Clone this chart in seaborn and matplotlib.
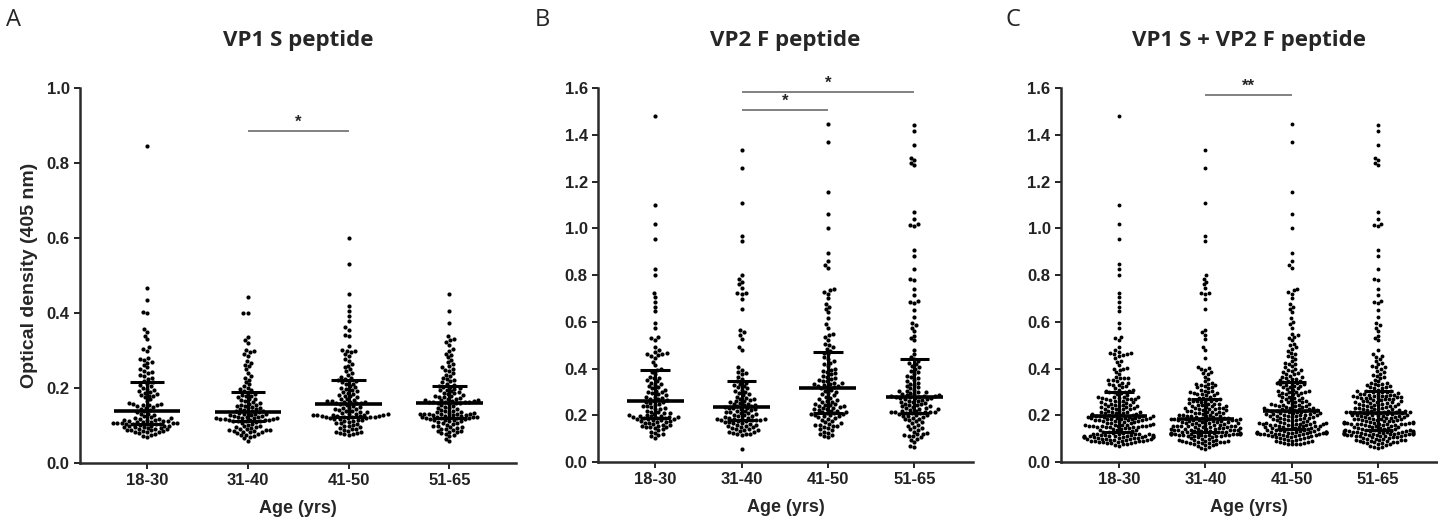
import numpy as np
import pandas as pd
import seaborn as sns
import matplotlib.pyplot as plt
from matplotlib.ticker import FormatStrFormatter

# age groups
ages = ["18-30", "31-40", "41-50", "51-65"]

# VP1 S peptide, optical density per donor
vp1s_18_30 = [0.845, 0.467, 0.434, 0.402, 0.400, 0.358, 0.350, 0.340, 0.330, 0.310, 0.305, 0.300, 0.280, 0.278,
              0.275, 0.270, 0.268, 0.262, 0.255, 0.250, 0.245, 0.242, 0.240, 0.235, 0.232, 0.228, 0.225, 0.220,
              0.215, 0.212, 0.208, 0.205, 0.200, 0.198, 0.195, 0.192, 0.190, 0.188, 0.185, 0.182, 0.180, 0.178,
              0.175, 0.170, 0.165, 0.160, 0.158, 0.157, 0.156, 0.155, 0.155, 0.152, 0.150, 0.148, 0.145, 0.142,
              0.138, 0.135, 0.132, 0.130, 0.128, 0.125, 0.122, 0.120, 0.120, 0.118, 0.118, 0.116, 0.115, 0.115,
              0.113, 0.112, 0.112, 0.110, 0.110, 0.110, 0.108, 0.108, 0.107, 0.106, 0.106, 0.105, 0.105, 0.105,
              0.104, 0.103, 0.102, 0.100, 0.100, 0.099, 0.098, 0.097, 0.096, 0.095, 0.094, 0.093, 0.092, 0.091,
              0.090, 0.089, 0.088, 0.087, 0.086, 0.085, 0.084, 0.083, 0.082, 0.080, 0.078, 0.076, 0.073, 0.070]
vp1s_31_40 = [0.443, 0.401, 0.399, 0.335, 0.328, 0.320, 0.302, 0.298, 0.295, 0.290, 0.285, 0.272, 0.268, 0.262,
              0.258, 0.250, 0.240, 0.232, 0.228, 0.222, 0.215, 0.210, 0.205, 0.200, 0.198, 0.195, 0.192,
              0.188, 0.185, 0.182, 0.180, 0.178, 0.175, 0.172, 0.170, 0.168, 0.165, 0.162, 0.160, 0.158, 0.156,
              0.155, 0.153, 0.152, 0.150, 0.148, 0.146, 0.145, 0.143, 0.142, 0.140, 0.139, 0.138, 0.136,
              0.135, 0.133, 0.132, 0.130, 0.130, 0.128, 0.127, 0.126, 0.125, 0.124, 0.123, 0.122, 0.121, 0.120,
              0.120, 0.119, 0.118, 0.118, 0.117, 0.116, 0.115, 0.115, 0.114, 0.113, 0.112, 0.112, 0.111,
              0.110, 0.108, 0.105, 0.102, 0.100, 0.098, 0.096, 0.095, 0.093, 0.092, 0.090, 0.089, 0.088, 0.087,
              0.086, 0.085, 0.084, 0.083, 0.082, 0.080, 0.078, 0.076, 0.074, 0.072, 0.070, 0.066, 0.060]
vp1s_41_50 = [0.600, 0.532, 0.452, 0.420, 0.405, 0.392, 0.378, 0.362, 0.355, 0.342, 0.338, 0.312, 0.302, 0.300,
              0.298, 0.295, 0.290, 0.285, 0.278, 0.272, 0.265, 0.260, 0.255, 0.250, 0.245, 0.240, 0.235, 0.230,
              0.227, 0.224, 0.222, 0.220, 0.218, 0.215, 0.212, 0.210, 0.205, 0.202, 0.200, 0.198, 0.195, 0.192,
              0.190, 0.188, 0.185, 0.182, 0.180, 0.178, 0.175, 0.172, 0.170, 0.168, 0.166, 0.165, 0.164, 0.163,
              0.162, 0.161, 0.160, 0.159, 0.157, 0.155, 0.153, 0.150, 0.148, 0.146, 0.145, 0.143, 0.141, 0.140,
              0.138, 0.136, 0.135, 0.133, 0.132, 0.131, 0.130, 0.129, 0.128, 0.128, 0.127, 0.127, 0.126, 0.126,
              0.125, 0.125, 0.124, 0.124, 0.123, 0.123, 0.122, 0.121, 0.120, 0.119, 0.118, 0.117, 0.116, 0.115,
              0.113, 0.112, 0.110, 0.108, 0.106, 0.104, 0.102, 0.100, 0.098, 0.096, 0.094, 0.092, 0.090, 0.088,
              0.086, 0.084, 0.082, 0.080, 0.079, 0.078, 0.077, 0.075]
vp1s_51_65 = [0.452, 0.405, 0.374, 0.338, 0.332, 0.328, 0.322, 0.315, 0.305, 0.298, 0.292, 0.288, 0.282, 0.276,
              0.270, 0.265, 0.260, 0.255, 0.252, 0.248, 0.245, 0.240, 0.236, 0.232, 0.228, 0.225, 0.222, 0.218,
              0.215, 0.212, 0.209, 0.206, 0.204, 0.202, 0.200, 0.198, 0.196, 0.194, 0.192, 0.190, 0.188, 0.186,
              0.184, 0.182, 0.180, 0.178, 0.176, 0.175, 0.174, 0.172, 0.170, 0.169, 0.168, 0.167, 0.166, 0.165,
              0.164, 0.163, 0.163, 0.162, 0.162, 0.161, 0.161, 0.160, 0.158, 0.155, 0.152, 0.150, 0.148, 0.146,
              0.144, 0.142, 0.140, 0.138, 0.136, 0.135, 0.134, 0.133, 0.132, 0.132, 0.131, 0.131, 0.130, 0.130,
              0.129, 0.128, 0.127, 0.126, 0.125, 0.124, 0.123, 0.123, 0.122, 0.122, 0.121, 0.121, 0.120, 0.119,
              0.118, 0.117, 0.116, 0.115, 0.114, 0.113, 0.112, 0.110, 0.108, 0.106, 0.104, 0.102, 0.100, 0.098,
              0.096, 0.095, 0.094, 0.092, 0.090, 0.088, 0.086, 0.085, 0.084, 0.082, 0.080, 0.078, 0.075, 0.072,
              0.065, 0.060]

# VP2 F peptide, optical density per donor
vp2f_18_30 = [1.479, 1.100, 1.018, 0.956, 0.824, 0.800, 0.721, 0.704, 0.685, 0.665, 0.647, 0.593, 0.574, 0.535,
              0.530, 0.522, 0.490, 0.480, 0.472, 0.465, 0.462, 0.460, 0.458, 0.455, 0.445, 0.430, 0.415, 0.400,
              0.392, 0.385, 0.375, 0.365, 0.360, 0.358, 0.350, 0.345, 0.340, 0.335, 0.330, 0.325, 0.320, 0.315,
              0.310, 0.305, 0.300, 0.298, 0.295, 0.290, 0.285, 0.280, 0.278, 0.275, 0.270, 0.268, 0.265, 0.262,
              0.258, 0.255, 0.252, 0.250, 0.245, 0.240, 0.238, 0.235, 0.230, 0.228, 0.225, 0.220, 0.215, 0.212,
              0.210, 0.208, 0.205, 0.202, 0.200, 0.198, 0.197, 0.195, 0.194, 0.193, 0.192, 0.190, 0.188, 0.187,
              0.185, 0.183, 0.182, 0.180, 0.178, 0.176, 0.175, 0.172, 0.170, 0.168, 0.165, 0.162, 0.160, 0.158,
              0.155, 0.152, 0.150, 0.150, 0.148, 0.145, 0.140, 0.135, 0.130, 0.125, 0.120, 0.115, 0.110, 0.103]
vp2f_31_40 = [1.336, 1.257, 1.107, 0.967, 0.946, 0.800, 0.785, 0.772, 0.760, 0.745, 0.725, 0.721, 0.718, 0.696,
              0.653, 0.565, 0.555, 0.545, 0.528, 0.493, 0.480, 0.405, 0.395, 0.385, 0.380, 0.375, 0.365, 0.355,
              0.345, 0.340, 0.335, 0.330, 0.325, 0.320, 0.315, 0.310, 0.305, 0.300, 0.295, 0.290, 0.285, 0.280,
              0.275, 0.270, 0.268, 0.265, 0.262, 0.260, 0.255, 0.252, 0.250, 0.248, 0.245, 0.242, 0.240, 0.238,
              0.235, 0.233, 0.232, 0.230, 0.228, 0.225, 0.222, 0.220, 0.218, 0.215, 0.212, 0.210, 0.208, 0.205,
              0.202, 0.200, 0.198, 0.195, 0.193, 0.190, 0.188, 0.186, 0.184, 0.183, 0.182, 0.181, 0.180, 0.179,
              0.178, 0.176, 0.175, 0.172, 0.170, 0.168, 0.165, 0.162, 0.160, 0.158, 0.155, 0.152, 0.150, 0.148,
              0.145, 0.142, 0.140, 0.138, 0.135, 0.132, 0.130, 0.128, 0.125, 0.122, 0.120, 0.118, 0.115, 0.057]
vp2f_41_50 = [1.446, 1.371, 1.157, 1.060, 0.999, 0.893, 0.862, 0.842, 0.830, 0.740, 0.735, 0.728, 0.720, 0.700,
              0.675, 0.665, 0.655, 0.640, 0.615, 0.590, 0.575, 0.548, 0.542, 0.535, 0.522, 0.505, 0.500, 0.490,
              0.485, 0.475, 0.468, 0.460, 0.450, 0.440, 0.432, 0.425, 0.418, 0.410, 0.400, 0.395, 0.390, 0.385,
              0.380, 0.375, 0.370, 0.365, 0.360, 0.355, 0.350, 0.348, 0.345, 0.340, 0.338, 0.335, 0.332, 0.330,
              0.327, 0.325, 0.322, 0.320, 0.315, 0.310, 0.305, 0.300, 0.295, 0.290, 0.285, 0.280, 0.275, 0.270,
              0.265, 0.262, 0.258, 0.255, 0.250, 0.248, 0.245, 0.242, 0.240, 0.238, 0.235, 0.232, 0.230, 0.228,
              0.225, 0.222, 0.220, 0.218, 0.215, 0.212, 0.210, 0.208, 0.206, 0.205, 0.203, 0.200, 0.198, 0.195,
              0.192, 0.190, 0.185, 0.180, 0.175, 0.170, 0.165, 0.162, 0.160, 0.158, 0.155, 0.152, 0.150, 0.145,
              0.140, 0.135, 0.130, 0.125, 0.120, 0.115, 0.110, 0.107]
vp2f_51_65 = [1.440, 1.414, 1.357, 1.300, 1.290, 1.280, 1.270, 1.071, 1.040, 1.020, 1.015, 1.010, 0.907, 0.883,
              0.824, 0.785, 0.780, 0.740, 0.715, 0.690, 0.685, 0.680, 0.650, 0.620, 0.595, 0.585, 0.575, 0.560,
              0.540, 0.530, 0.520, 0.481, 0.460, 0.450, 0.440, 0.432, 0.425, 0.418, 0.410, 0.405, 0.398, 0.390,
              0.385, 0.378, 0.370, 0.365, 0.360, 0.352, 0.345, 0.340, 0.335, 0.330, 0.325, 0.320, 0.315, 0.310,
              0.305, 0.302, 0.300, 0.298, 0.295, 0.292, 0.290, 0.288, 0.286, 0.284, 0.282, 0.281, 0.279, 0.278,
              0.277, 0.276, 0.275, 0.272, 0.270, 0.268, 0.265, 0.262, 0.260, 0.258, 0.255, 0.252, 0.250, 0.248,
              0.245, 0.242, 0.240, 0.238, 0.235, 0.232, 0.230, 0.228, 0.225, 0.222, 0.220, 0.218, 0.216, 0.215,
              0.214, 0.213, 0.212, 0.211, 0.210, 0.208, 0.205, 0.202, 0.200, 0.198, 0.195, 0.192, 0.190, 0.186,
              0.182, 0.178, 0.175, 0.170, 0.165, 0.160, 0.155, 0.150, 0.145, 0.140, 0.135, 0.130, 0.125, 0.120,
              0.118, 0.115, 0.112, 0.110, 0.105, 0.100, 0.095, 0.085, 0.070, 0.064]

vp1s = [vp1s_18_30, vp1s_31_40, vp1s_41_50, vp1s_51_65]
vp2f = [vp2f_18_30, vp2f_31_40, vp2f_41_50, vp2f_51_65]
both = [a + b for a, b in zip(vp1s, vp2f)]

titles = ["VP1 S peptide", "VP2 F peptide", "VP1 S + VP2 F peptide"]
letters = ["A", "B", "C"]
ymaxes = [1.0, 1.6, 1.6]
# significance bars: (group from, group to, height, label)
sig_bars = [
    [(1, 2, 0.885, "*")],
    [(1, 2, 1.504, "*"), (1, 3, 1.583, "*")],
    [(1, 2, 1.571, "**")],
]


def to_frame(groups):
    rows = []
    for age, vals in zip(ages, groups):
        for v in vals:
            rows.append((age, v))
    return pd.DataFrame(rows, columns=["age", "od"])


sns.set_style("ticks")
plt.rcParams["font.family"] = ["Liberation Sans", "DejaVu Sans"]

fig = plt.figure(figsize=(14.38, 5.21), dpi=100)
boxes = [
    [0.0556, 0.1113, 0.3032, 0.7198],
    [0.4159, 0.1132, 0.2608, 0.7179],
    [0.7378, 0.1132, 0.2615, 0.7179],
]
xlims = [(-0.665, 3.66), (-0.66, 3.68), (-0.67, 3.68)]

for i, groups in enumerate([vp1s, vp2f, both]):
    ax = fig.add_axes(boxes[i])
    df = to_frame(groups)
    sns.swarmplot(data=df, x="age", y="od", order=ages, color="black",
                  size=3.0 if i < 2 else 2.8, ax=ax, zorder=2)

    # median with interquartile range
    for k, vals in enumerate(groups):
        q1, med, q3 = np.percentile(vals, [25, 50, 75])
        ax.hlines(med, k - 0.33, k + 0.33, color="black", lw=2.6, zorder=3)
        ax.hlines([q1, q3], k - 0.17, k + 0.17, color="black", lw=2.2, zorder=3)
        ax.vlines(k, q1, q3, color="black", lw=2.2, zorder=3)

    for g1, g2, h, lab in sig_bars[i]:
        ax.hlines(h, g1, g2, color="#777777", lw=1.3, clip_on=False)
        ax.text((g1 + g2) / 2, h + 0.004 * ymaxes[i], lab, ha="center", va="bottom",
                fontsize=12, fontweight="bold", clip_on=False)

    ax.set_xlim(*xlims[i])
    ax.set_ylim(0, ymaxes[i])
    ax.set_yticks(np.arange(0, ymaxes[i] + 0.01, 0.2))
    ax.yaxis.set_major_formatter(FormatStrFormatter("%.1f"))
    ax.tick_params(direction="out", length=4, width=1.4, labelsize=12, colors="#222222")
    for lab in ax.get_xticklabels() + ax.get_yticklabels():
        lab.set_fontweight("bold")
    sns.despine(ax=ax)
    for s in ["left", "bottom"]:
        ax.spines[s].set_linewidth(1.8)
        ax.spines[s].set_color("#2a2a2a")

    ax.set_xlabel("Age (yrs)", fontsize=13, fontweight="bold", labelpad=8)
    if i == 0:
        ax.set_ylabel("Optical density (405 nm)", fontsize=14, fontweight="bold", labelpad=6)
    else:
        ax.set_ylabel("")
    ax.set_title(titles[i], fontsize=16, fontweight="bold", family="Open Sans", pad=30)

    lx = [0.004, 0.372, 0.699][i]
    fig.text(lx, 0.985, letters[i], fontsize=17, family="Open Sans", va="top", ha="left")

fig.savefig("out.png", dpi=100)
